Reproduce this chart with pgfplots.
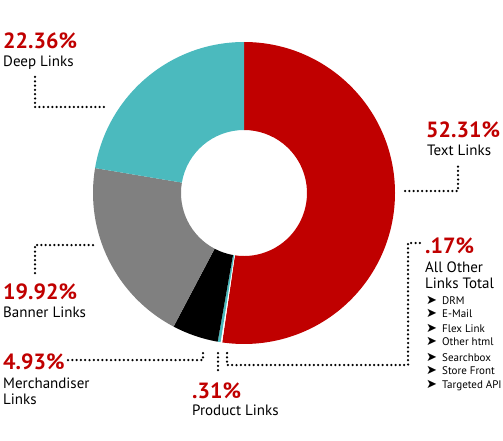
\documentclass[border=0pt]{standalone}
\usepackage{pgfplots}
\usepackage{pgfplotstable}
\pgfplotsset{compat=1.18}
\usepackage{fontspec}
\setmainfont{PT Sans}
\newfontfamily\symfont{DejaVu Sans}
\definecolor{cred}{RGB}{192,0,0}
\definecolor{cteal}{RGB}{75,186,190}
\definecolor{cgray}{RGB}{128,128,128}

% slice shares, clockwise from 12 o'clock
\pgfplotstableread{
name value col
Text 52.31 cred
Other 0.17 white
Product 0.31 cteal
Merchandiser 4.93 black
Banner 19.92 cgray
Deep 22.36 cteal
}\piedata

\newcommand\pct[1]{{\fontsize{22}{22}\selectfont\bfseries\color{cred}#1}}
\newcommand\lbl[1]{{\fontsize{15}{15}\selectfont #1}}
\newcommand\itm[1]{{\fontsize{11}{11}\selectfont #1}}
\newcommand\bul{{\fontsize{13}{13}\selectfont\symfont ➤}}

\begin{document}
\begin{tikzpicture}[
  dots/.style={line width=2.5pt, line cap=round, dash pattern=on 0pt off 4.3pt},
  txt/.style={anchor=base west, inner sep=0pt}]
\begin{axis}[
  width=503pt, height=440pt, scale only axis,
  xmin=0, xmax=503, ymin=-440, ymax=0,
  hide axis, clip=false]
% keep the full canvas as bounding box
\path (axis cs:0,0) rectangle (axis cs:503,-440);
\pgfplotstablegetrowsof{\piedata}
\pgfmathtruncatemacro\lastrow{\pgfplotsretval-1}
\def\cum{0}
\pgfplotsforeachungrouped \i in {0,...,\lastrow}{%
  \pgfplotstablegetelem{\i}{value}\of\piedata \let\val\pgfplotsretval
  \pgfplotstablegetelem{\i}{col}\of\piedata \let\col\pgfplotsretval
  \pgfmathsetmacro\angA{90-3.6*\cum}%
  \pgfmathsetmacro\cum{\cum+\val}%
  \pgfmathsetmacro\angB{90-3.6*\cum}%
  \pgfmathsetmacro\xa{244+151*cos(\angA)}%
  \pgfmathsetmacro\ya{-193+151*sin(\angA)}%
  \pgfmathsetmacro\xb{244+63*cos(\angB)}%
  \pgfmathsetmacro\yb{-193+63*sin(\angB)}%
  \edef\next{\noexpand\fill[\col] (axis cs:\xa,\ya)
    arc[start angle=\angA, end angle=\angB, radius=151pt]
    -- (axis cs:\xb,\yb)
    arc[start angle=\angB, end angle=\angA, radius=63pt] -- cycle;}%
  \next
}

% leader lines
\draw[dots] (axis cs:35,-77) -- (axis cs:35,-107) -- (axis cs:106,-107);
\draw[dots] (axis cs:405,-191) -- (axis cs:458,-191) -- (axis cs:458,-163);
\draw[dots] (axis cs:93,-245) -- (axis cs:35,-245) -- (axis cs:35,-275);
\draw[dots] (axis cs:68,-360) -- (axis cs:203,-360) -- (axis cs:203,-350);
\draw[dots] (axis cs:218,-353) -- (axis cs:218,-371);
\draw[dots] (axis cs:227,-353) -- (axis cs:227,-365) -- (axis cs:408,-365)
  -- (axis cs:408,-243) -- (axis cs:420,-243);

% labels
\node[txt] at (axis cs:3,-49) {\pct{22.36\%}};
\node[txt] at (axis cs:3,-67) {\lbl{Deep Links}};
\node[txt] at (axis cs:426,-137) {\pct{52.31\%}};
\node[txt] at (axis cs:427,-155) {\lbl{Text Links}};
\node[txt] at (axis cs:3,-299) {\pct{19.92\%}};
\node[txt] at (axis cs:3,-317) {\lbl{Banner Links}};
\node[txt] at (axis cs:3,-369) {\pct{4.93\%}};
\node[txt] at (axis cs:3,-388) {\lbl{Merchandiser}};
\node[txt] at (axis cs:3,-404) {\lbl{Links}};
\node[txt] at (axis cs:192,-398) {\pct{.31\%}};
\node[txt] at (axis cs:192,-415) {\lbl{Product Links}};
\node[txt] at (axis cs:425,-253) {\pct{.17\%}};
\node[txt] at (axis cs:425,-272) {\lbl{All Other}};
\node[txt] at (axis cs:425,-288) {\lbl{Links Total}};
\node[txt] at (axis cs:426,-304) {\bul};
\node[txt] at (axis cs:442,-304) {\itm{DRM}};
\node[txt] at (axis cs:426,-317) {\bul};
\node[txt] at (axis cs:442,-317) {\itm{E-Mail}};
\node[txt] at (axis cs:426,-332) {\bul};
\node[txt] at (axis cs:442,-332) {\itm{Flex Link}};
\node[txt] at (axis cs:426,-345) {\bul};
\node[txt] at (axis cs:442,-345) {\itm{Other html}};
\node[txt] at (axis cs:426,-361) {\bul};
\node[txt] at (axis cs:442,-361) {\itm{Searchbox}};
\node[txt] at (axis cs:426,-374) {\bul};
\node[txt] at (axis cs:442,-374) {\itm{Store Front}};
\node[txt] at (axis cs:426,-388) {\bul};
\node[txt] at (axis cs:442,-388) {\itm{Targeted API}};
\end{axis}
\end{tikzpicture}
\end{document}
